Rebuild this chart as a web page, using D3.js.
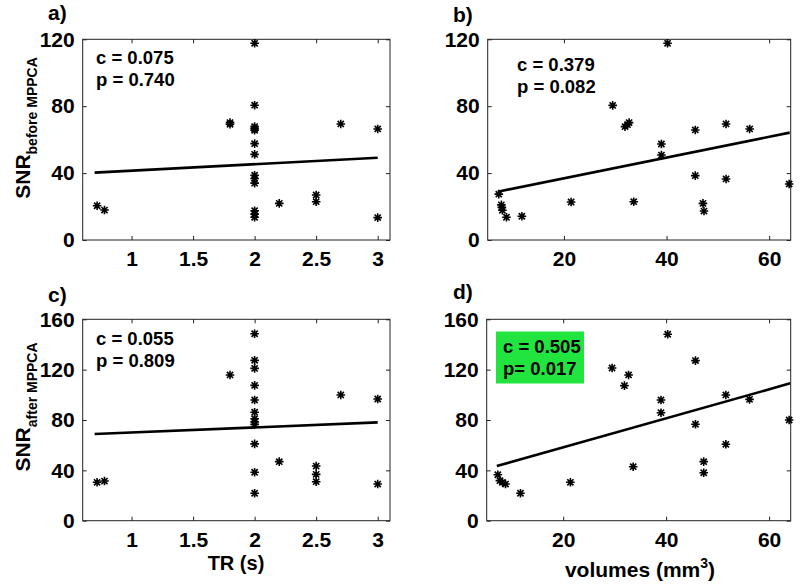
<!DOCTYPE html>
<html><head><meta charset="utf-8">
<script src="https://cdn.jsdelivr.net/npm/d3@7"></script>
<style>
html,body{margin:0;padding:0;background:#fff;}
text{font-family:"Liberation Sans",Arial,Helvetica,sans-serif;font-weight:bold;fill:#000;}
</style></head>
<body>
<svg id="chart" width="800" height="588"></svg>
<script>
// ---- data ----
const trA = [0.72, 0.78, 1.8, 1.8, 2, 2, 2, 2, 2, 2, 2, 2, 2, 2, 2, 2, 2, 2.2, 2.5, 2.5, 2.7, 3, 3];
const snrBeforeA = [20.5, 17.9, 70.2, 69.2, 117.6, 80.6, 67.8, 66.6, 65.6, 57.6, 51.2, 38.7, 36.8, 34.0, 17.5, 15.5, 13.6, 21.9, 26.9, 22.9, 69.4, 66.4, 13.4];

const volB = [7.3, 7.8, 7.9, 8.0, 8.8, 11.8, 21.4, 29.5, 31.9, 32.4, 32.7, 33.6, 39.0, 39.0, 40.2, 45.6, 45.6, 47.1, 47.3, 51.6, 51.6, 56.2, 63.9];
const snrBeforeB = [27.4, 21.0, 19.5, 17.8, 13.6, 14.2, 22.7, 80.5, 67.8, 69.0, 70.2, 22.9, 57.4, 50.8, 117.6, 65.8, 38.5, 21.9, 17.3, 69.4, 36.5, 66.4, 33.5];

const trC = [0.72, 0.78, 1.8, 2, 2, 2, 2, 2, 2, 2, 2, 2, 2, 2, 2, 2.2, 2.5, 2.5, 2.5, 2.7, 3, 3];
const snrAfterC = [30.5, 31.5, 115.8, 148.5, 127.4, 121.0, 107.5, 95.9, 86.2, 81.0, 78.5, 76.5, 61.0, 38.5, 21.8, 46.9, 43.4, 36.8, 31.0, 99.9, 96.7, 29.1];

const volD = [7.3, 7.7, 8.2, 8.8, 11.7, 21.4, 29.5, 31.9, 32.7, 33.6, 39.0, 39.0, 40.3, 45.7, 45.7, 47.3, 47.3, 51.6, 51.6, 56.2, 63.9];
const snrAfterD = [36.5, 31.8, 30.4, 29.1, 21.8, 30.5, 121.3, 107.3, 115.8, 42.9, 95.9, 85.8, 148.1, 127.2, 76.6, 46.9, 38.1, 99.9, 60.7, 96.4, 80.0];

// fitted lines (end points x, y)
const fitAx = [0.7, 3.0], fitAy = [40.3, 49.2];
const fitBx = [7.1, 64.0], fitBy = [28.9, 64.2];
const fitCx = [0.7, 3.0], fitCy = [68.9, 78.1];
const fitDx = [7.1, 64.1], fitDy = [43.4, 109.1];

const trTicks = [1, 1.5, 2, 2.5, 3];
const volTicks = [20, 40, 60];
const snrTicksTop = [0, 40, 80, 120];
const snrTicksBottom = [0, 40, 80, 120, 160];

const statsA = ["c = 0.075", "p = 0.740"];
const statsB = ["c = 0.379", "p = 0.082"];
const statsC = ["c = 0.055", "p = 0.809"];
const statsD = ["c = 0.505", "p= 0.017"];

// ---- drawing ----
const svg = d3.select("#chart");

function panel(opt) {
  const g = svg.append("g");
  const x = d3.scaleLinear().domain(opt.xdom).range([opt.l, opt.r]);
  const y = d3.scaleLinear().domain(opt.ydom).range([opt.b, opt.t]);

  // highlight box
  if (opt.box) {
    g.append("rect").attr("x", opt.box[0]).attr("y", opt.box[1])
      .attr("width", opt.box[2]).attr("height", opt.box[3]).attr("fill", "#22e43e");
  }

  // frame
  g.append("rect").attr("x", opt.l).attr("y", opt.t)
    .attr("width", opt.r - opt.l).attr("height", opt.b - opt.t)
    .attr("fill", "none").attr("stroke", "#222").attr("stroke-width", 1);

  const tl = 4;
  // axes via d3 axis (ticks inward)
  const ax = d3.axisBottom(x).tickValues(opt.xticks).tickSize(-tl).tickPadding(11)
    .tickFormat(d3.format("~g"));
  const axG = g.append("g").attr("transform", `translate(0,${opt.b})`).call(ax);
  const axT = g.append("g").attr("transform", `translate(0,${opt.t})`)
    .call(d3.axisTop(x).tickValues(opt.xticks).tickSize(-tl).tickFormat(""));
  const ay = d3.axisLeft(y).tickValues(opt.yticks).tickSize(-tl).tickPadding(8)
    .tickFormat(d3.format("d"));
  const ayG = g.append("g").attr("transform", `translate(${opt.l},0)`).call(ay);
  const ayR = g.append("g").attr("transform", `translate(${opt.r},0)`)
    .call(d3.axisRight(y).tickValues(opt.yticks).tickSize(-tl).tickFormat(""));
  [axG, axT, ayG, ayR].forEach(a => {
    a.select(".domain").remove();
    a.selectAll("line").attr("stroke", "#222");
    a.selectAll("text").attr("font-size", 21).attr("font-family", null).attr("fill", "#000");
  });
  axG.selectAll("text").attr("dy", null).attr("y", 26).attr("dominant-baseline", null);

  // fit line
  g.append("line")
    .attr("x1", x(opt.fx[0])).attr("y1", y(opt.fy[0]))
    .attr("x2", x(opt.fx[1])).attr("y2", y(opt.fy[1]))
    .attr("stroke", "#000").attr("stroke-width", 2.6);

  // star markers
  const r = 4.3, d = r * 0.72;
  const star = `M${-r},0L${r},0M0,${-r}L0,${r}M${-d},${-d}L${d},${d}M${-d},${d}L${d},${-d}`;
  g.selectAll("path.star").data(opt.xs.map((v, i) => [v, opt.ys[i]]))
    .enter().append("path").attr("class", "star")
    .attr("transform", p => `translate(${x(p[0])},${y(p[1])})`)
    .attr("d", star).attr("stroke", "#000").attr("stroke-width", 1.6).attr("fill", "none");

  // stats text
  opt.stats.forEach((s, i) => {
    g.append("text").attr("x", opt.sx).attr("y", opt.sy + i * 22)
      .attr("font-size", 18.5).text(s);
  });

  // panel letter
  g.append("text").attr("x", opt.lx).attr("y", opt.ly).attr("font-size", 21).text(opt.letter);
}

panel({xdom: [0.603, 3.1], ydom: [0, 120], l: 82.7, r: 390, t: 39.3, b: 240,
  xticks: trTicks, yticks: snrTicksTop, xs: trA, ys: snrBeforeA, fx: fitAx, fy: fitAy,
  stats: statsA, sx: 96, sy: 63.5, letter: "a)", lx: 48, ly: 20});
panel({xdom: [5.14, 64.2], ydom: [0, 120], l: 487.7, r: 790.7, t: 39.3, b: 240,
  xticks: volTicks, yticks: snrTicksTop, xs: volB, ys: snrBeforeB, fx: fitBx, fy: fitBy,
  stats: statsB, sx: 517, sy: 71, letter: "b)", lx: 453, ly: 22});
panel({xdom: [0.603, 3.1], ydom: [0, 160], l: 82.7, r: 390, t: 319.3, b: 520.7,
  xticks: trTicks, yticks: snrTicksBottom, xs: trC, ys: snrAfterC, fx: fitCx, fy: fitCy,
  stats: statsC, sx: 96, sy: 345, letter: "c)", lx: 48, ly: 302});
panel({xdom: [5.14, 64.2], ydom: [0, 160], l: 486.7, r: 790.7, t: 319.3, b: 520.7,
  xticks: volTicks, yticks: snrTicksBottom, xs: volD, ys: snrAfterD, fx: fitDx, fy: fitDy,
  stats: statsD, sx: 503, sy: 353, letter: "d)", lx: 453, ly: 299,
  box: [496, 331.5, 88, 52]});

// axis titles
function ytitle(cy, sub) {
  const t = svg.append("text").attr("transform", `translate(30,${cy}) rotate(-90)`)
    .attr("text-anchor", "middle");
  t.append("tspan").attr("font-size", 21).text("SNR");
  t.append("tspan").attr("font-size", 14).attr("dy", 7).text(sub);
}
ytitle(128, "before MPPCA");
ytitle(407, "after MPPCA");

svg.append("text").attr("x", 236).attr("y", 570).attr("text-anchor", "middle")
  .attr("font-size", 20).text("TR (s)");
const vt = svg.append("text").attr("x", 640).attr("y", 577).attr("text-anchor", "middle")
  .attr("font-size", 21);
vt.append("tspan").text("volumes (mm");
vt.append("tspan").attr("font-size", 14).attr("dy", -9).text("3");
vt.append("tspan").attr("dy", 9).text(")");
</script>
</body></html>
